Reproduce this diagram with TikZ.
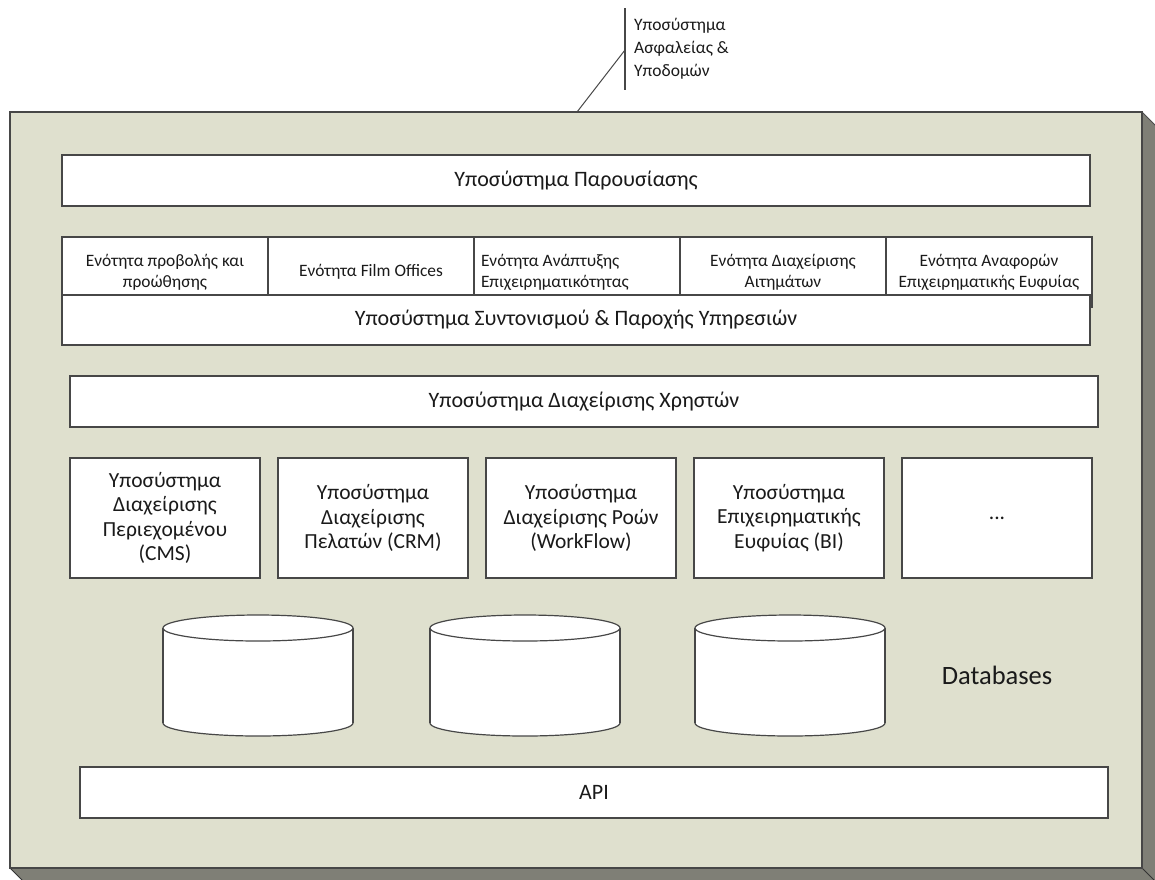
\documentclass[tikz,border=0pt]{standalone}
\usepackage{fontspec}
\setmainfont{Carlito}
\definecolor{framefill}{HTML}{DFE0CE}
\definecolor{sidefill}{HTML}{7F7F76}
\definecolor{edgecol}{HTML}{474747}
\definecolor{txtcol}{HTML}{1A1A1A}
\tikzset{
  box/.style={draw=edgecol, line width=1.5pt, fill=white, inner sep=2pt, align=center, text=txtcol},
  bigtxt/.style={font=\fontsize{22}{24}\selectfont},
  subtxt/.style={font=\fontsize{21.5}{24.5}\selectfont},
  smalltxt/.style={font=\fontsize{17.4}{21}\selectfont},
  cylline/.style={draw=edgecol, line width=1.2pt},
}
\begin{document}
\begin{tikzpicture}[x=1pt,y=-1pt]
\useasboundingbox (0,0) rectangle (1155,879);
% 3D frame
\begin{scope}
\clip (0,0) rectangle (1155,879);
\fill[sidefill] (1142,112) -- (1162,132) -- (1162,890) -- (32,890) -- (10,868) -- (1142,868) -- cycle;
\draw[black!80, line width=1pt] (1142,868) -- (1162,888);
\draw[black!80, line width=1pt] (10,868) -- (24,882);
\draw[black!70, line width=1pt] (1142,112) -- (1162,132);
\end{scope}
\filldraw[fill=framefill, draw=edgecol, line width=1.6pt] (10,112) rectangle (1142,868);
% annotation
\coordinate (annTop) at (625,8);
\coordinate (annBot) at (625,90);
\coordinate (annJoint) at (625,50);
\coordinate (annFoot) at (577,112);
\draw[edgecol, line width=1.2pt] (annTop) -- (annBot);
\draw[edgecol, line width=1pt] (annJoint) -- (annFoot);
\node[anchor=north west, align=left, inner sep=0pt, text=txtcol, font=\fontsize{17.5}{23}\selectfont] (ann) at (634,18) {Υποσύστημα\\Ασφαλείας \&\\Υποδομών};
% presentation
\node[box, bigtxt, minimum width=1028pt, minimum height=51pt] (pres) at (576,180.5) {Υποσύστημα Παρουσίασης};
% row of units
\node[box, smalltxt, minimum width=206pt, minimum height=70pt] (u1) at (165,272) {Ενότητα προβολής και\\προώθησης};
\node[box, smalltxt, minimum width=206pt, minimum height=70pt] (u2) at (371,272) {Ενότητα Film Offices};
\node[box, smalltxt, minimum width=206pt, minimum height=70pt, align=flush left, text width=192pt] (u3) at (577,272) {Ενότητα Ανάπτυξης\\Επιχειρηματικότητας};
\node[box, smalltxt, minimum width=206pt, minimum height=70pt] (u4) at (783,272) {Ενότητα Διαχείρισης\\Αιτημάτων};
\node[box, smalltxt, minimum width=206pt, minimum height=70pt] (u5) at (989,272) {Ενότητα Αναφορών\\Επιχειρηματικής Ευφυίας};
% coordination
\node[box, bigtxt, minimum width=1028pt, minimum height=50pt] (coord) at (576,320) {Υποσύστημα Συντονισμού \& Παροχής Υπηρεσιών};
% users
\node[box, bigtxt, minimum width=1028pt, minimum height=51pt] (users) at (584,401.5) {Υποσύστημα Διαχείρισης Χρηστών};
% subsystems
\node[box, subtxt, minimum width=190pt, minimum height=120pt] (s1) at (165,518) {Υποσύστημα\\Διαχείρισης\\Περιεχομένου\\(CMS)};
\node[box, subtxt, minimum width=190pt, minimum height=120pt] (s2) at (373,518) {Υποσύστημα\\Διαχείρισης\\Πελατών (CRM)};
\node[box, subtxt, minimum width=190pt, minimum height=120pt] (s3) at (581,518) {Υποσύστημα\\Διαχείρισης Ροών\\(WorkFlow)};
\node[box, subtxt, minimum width=190pt, minimum height=120pt] (s4) at (789,518) {Υποσύστημα\\Επιχειρηματικής\\Ευφυίας (BI)};
\node[box, subtxt, minimum width=190pt, minimum height=120pt] (s5) at (997,518) {...};
% databases
\foreach \cx/\nm in {258/db1, 525/db2, 790/db3} {
  \filldraw[fill=white, cylline] (\cx,723) ellipse [x radius=95, y radius=13];
  \fill[white] (\cx-95,628) rectangle (\cx+95,723);
  \draw[cylline] (\cx-95,628) -- (\cx-95,723);
  \draw[cylline] (\cx+95,628) -- (\cx+95,723);
  \filldraw[fill=white, cylline] (\cx,628) ellipse [x radius=95, y radius=13];
  \coordinate (\nm) at (\cx,676);
}
\node[text=txtcol, font=\fontsize{26.5}{30}\selectfont, inner sep=0pt] (dblabel) at (997,675) {Databases};
% API
\node[box, bigtxt, minimum width=1028pt, minimum height=51pt] (api) at (594,792.5) {API};
\end{tikzpicture}
\end{document}
